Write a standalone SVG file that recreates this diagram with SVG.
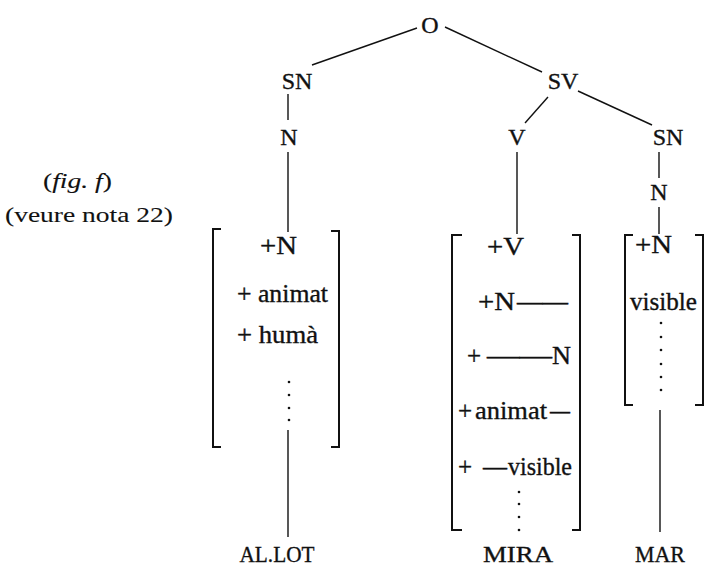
<svg xmlns="http://www.w3.org/2000/svg" width="708" height="568" viewBox="0 0 708 568">
<style>
  text { font-family: "Liberation Serif", "Times New Roman", serif; fill: #111; stroke: #111; stroke-width: 0.35; }
  .lbl { font-size: 24px; text-anchor: middle; }
  .ft { font-size: 25px; }
  .cap { font-size: 22px; stroke-width: 0.1; }
  .word { font-size: 24px; text-anchor: middle; }
  .edge { stroke: #111; stroke-width: 1.4; fill: none; }
  .br { stroke: #111; stroke-width: 2; fill: none; }
  .dot { fill: #111; }
</style>
<rect width="708" height="568" fill="#fff"/>

<g id="connectors">
  <line class="edge" x1="417" y1="28" x2="312" y2="65"/>
  <line class="edge" x1="445" y1="27" x2="542" y2="72"/>
  <line class="edge" x1="288" y1="94" x2="288" y2="120"/>
  <line class="edge" x1="548" y1="97" x2="525" y2="123"/>
  <line class="edge" x1="578" y1="91" x2="652" y2="125"/>
  <line class="edge" x1="659" y1="152" x2="659" y2="178"/>
  <line class="edge" x1="288" y1="152" x2="288" y2="232"/>
  <line class="edge" x1="517" y1="152" x2="517" y2="234"/>
  <line class="edge" x1="659" y1="207" x2="659" y2="234"/>
  <line class="edge" x1="288" y1="430" x2="288" y2="537"/>
  <line class="edge" x1="660" y1="410" x2="660" y2="532"/>
</g>

<g id="caption">
  <text class="cap" x="43" y="188" textLength="69" lengthAdjust="spacingAndGlyphs">(<tspan font-style="italic">fig. f</tspan>)</text>
  <text class="cap" x="5" y="222" textLength="168" lengthAdjust="spacingAndGlyphs">(veure nota 22)</text>
</g>

<g id="node-O"><text class="lbl" x="430" y="33">O</text></g>
<g id="node-SN1"><text class="lbl" x="297" y="89">SN</text></g>
<g id="node-SV"><text class="lbl" x="563" y="89">SV</text></g>
<g id="node-N1"><text class="lbl" x="289" y="145">N</text></g>
<g id="node-V"><text class="lbl" x="517" y="145">V</text></g>
<g id="node-SN2"><text class="lbl" x="668" y="145">SN</text></g>
<g id="node-N2"><text class="lbl" x="659" y="200">N</text></g>

<g id="matrix-allot">
  <path class="br" d="M221,229 H213 V447 H221"/>
  <path class="br" d="M331,231 H339 V447 H331"/>
  <text class="ft" x="260" y="254" textLength="37" lengthAdjust="spacingAndGlyphs">+N</text>
  <text class="ft" x="237" y="302" textLength="91" lengthAdjust="spacingAndGlyphs">+ animat</text>
  <text class="ft" x="237" y="343" textLength="81" lengthAdjust="spacingAndGlyphs">+ humà</text>
  <circle class="dot" cx="289" cy="382" r="1.3"/>
  <circle class="dot" cx="289" cy="395" r="1.3"/>
  <circle class="dot" cx="289" cy="408" r="1.3"/>
  <circle class="dot" cx="289" cy="420" r="1.3"/>
</g>

<g id="matrix-mira">
  <path class="br" d="M462,235 H452 V530 H462"/>
  <path class="br" d="M572,235 H580 V530 H572"/>
  <text class="ft" x="487" y="255" textLength="37" lengthAdjust="spacingAndGlyphs">+V</text>
  <text class="ft" y="310"><tspan x="478" textLength="37" lengthAdjust="spacingAndGlyphs">+N</tspan><tspan x="517" textLength="51" lengthAdjust="spacingAndGlyphs">——</tspan></text>
  <text class="ft" y="364"><tspan x="467">+</tspan><tspan x="487" textLength="65" lengthAdjust="spacingAndGlyphs">——</tspan><tspan x="552" textLength="19" lengthAdjust="spacingAndGlyphs">N</tspan></text>
  <text class="ft" y="419"><tspan x="458">+</tspan><tspan x="475" textLength="72" lengthAdjust="spacingAndGlyphs">animat</tspan><tspan x="550" textLength="20" lengthAdjust="spacingAndGlyphs">—</tspan></text>
  <text class="ft" y="475"><tspan x="458">+</tspan><tspan x="483" textLength="24" lengthAdjust="spacingAndGlyphs">—</tspan><tspan x="508" textLength="64" lengthAdjust="spacingAndGlyphs">visible</tspan></text>
  <circle class="dot" cx="519" cy="492" r="1.3"/>
  <circle class="dot" cx="519" cy="504" r="1.3"/>
  <circle class="dot" cx="519" cy="517" r="1.3"/>
  <circle class="dot" cx="519" cy="530" r="1.3"/>
</g>

<g id="matrix-mar">
  <path class="br" d="M633,235 H625 V405 H633"/>
  <path class="br" d="M695,235 H703 V405 H695"/>
  <text class="ft" x="635" y="253" textLength="37" lengthAdjust="spacingAndGlyphs">+N</text>
  <text class="ft" x="630" y="310" textLength="67" lengthAdjust="spacingAndGlyphs">visible</text>
  <circle class="dot" cx="661" cy="323" r="1.3"/>
  <circle class="dot" cx="661" cy="337" r="1.3"/>
  <circle class="dot" cx="661" cy="350" r="1.3"/>
  <circle class="dot" cx="661" cy="364" r="1.3"/>
  <circle class="dot" cx="661" cy="377" r="1.3"/>
  <circle class="dot" cx="661" cy="390" r="1.3"/>
</g>

<g id="word-allot"><text class="word" x="277" y="562" textLength="75" lengthAdjust="spacingAndGlyphs">AL.LOT</text></g>
<g id="word-mira"><text class="word" x="518" y="562" textLength="70" lengthAdjust="spacingAndGlyphs">MIRA</text></g>
<g id="word-mar"><text class="word" x="660" y="562" textLength="50" lengthAdjust="spacingAndGlyphs">MAR</text></g>
</svg>
